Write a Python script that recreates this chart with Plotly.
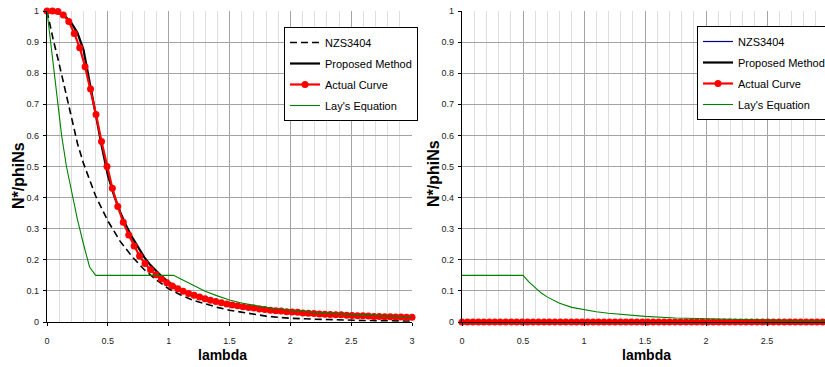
import plotly.graph_objects as go

# ---------------- data ----------------
# lambda grid of the "Actual Curve" markers
lam = [0.000, 0.045, 0.090, 0.134, 0.179, 0.224, 0.269, 0.313, 0.358, 0.403,
       0.448, 0.493, 0.537, 0.582, 0.627, 0.672, 0.716, 0.761, 0.806, 0.851,
       0.896, 0.940, 0.985, 1.030, 1.075, 1.119, 1.164, 1.209, 1.254, 1.299,
       1.343, 1.388, 1.433, 1.478, 1.522, 1.567, 1.612, 1.657, 1.701, 1.746,
       1.791, 1.836, 1.881, 1.925, 1.970, 2.015, 2.060, 2.104, 2.149, 2.194,
       2.239, 2.284, 2.328, 2.373, 2.418, 2.463, 2.507, 2.552, 2.597, 2.642,
       2.687, 2.731, 2.776, 2.821, 2.866, 2.910, 2.955, 3.000]

actual_left = [1.000, 1.000, 0.998, 0.987, 0.966, 0.928, 0.882, 0.821, 0.749, 0.667,
               0.580, 0.500, 0.430, 0.371, 0.321, 0.280, 0.244, 0.212, 0.188, 0.168,
               0.152, 0.138, 0.126, 0.116, 0.107, 0.099, 0.092, 0.086, 0.080, 0.075,
               0.070, 0.066, 0.062, 0.058, 0.055, 0.052, 0.049, 0.047, 0.045, 0.042,
               0.040, 0.038, 0.036, 0.035, 0.033, 0.032, 0.031, 0.029, 0.028, 0.027,
               0.026, 0.025, 0.024, 0.023, 0.023, 0.022, 0.021, 0.020, 0.020, 0.019,
               0.018, 0.018, 0.017, 0.017, 0.016, 0.016, 0.015, 0.015]

actual_right = [0.0, 0.0, 0.0, 0.0, 0.0, 0.0, 0.0, 0.0, 0.0, 0.0,
                0.0, 0.0, 0.0, 0.0, 0.0, 0.0, 0.0, 0.0, 0.0, 0.0,
                0.0, 0.0, 0.0, 0.0, 0.0, 0.0, 0.0, 0.0, 0.0, 0.0,
                0.0, 0.0, 0.0, 0.0, 0.0, 0.0, 0.0, 0.0, 0.0, 0.0,
                0.0, 0.0, 0.0, 0.0, 0.0, 0.0, 0.0, 0.0, 0.0, 0.0,
                0.0, 0.0, 0.0, 0.0, 0.0, 0.0, 0.0, 0.0, 0.0, 0.0,
                0.0, 0.0, 0.0, 0.0, 0.0, 0.0, 0.0, 0.0]

prop_x = [0, 0.05, 0.1, 0.15, 0.2, 0.25, 0.3, 0.35, 0.4, 0.45, 0.5, 0.55, 0.6, 0.65,
          0.7, 0.75, 0.8, 0.85, 0.9, 0.95, 1.0, 1.1, 1.2, 1.3, 1.4, 1.5, 1.6, 1.7,
          1.8, 1.9, 2.0, 2.2, 2.4, 2.6, 2.8, 3.0]
prop_left = [1.0, 0.998, 0.993, 0.983, 0.962, 0.93, 0.875, 0.772, 0.663, 0.565, 0.472,
             0.408, 0.355, 0.31, 0.272, 0.238, 0.208, 0.183, 0.162, 0.144, 0.128,
             0.103, 0.085, 0.072, 0.062, 0.054, 0.048, 0.043, 0.039, 0.035, 0.032,
             0.027, 0.023, 0.020, 0.017, 0.015]
prop_right_x = [0, 3.0]
prop_right = [0.0, 0.0]

nzs_x = [0, 0.025, 0.05, 0.1, 0.15, 0.2, 0.25, 0.3, 0.35, 0.4, 0.45, 0.5, 0.6, 0.7,
         0.8, 0.9, 1.0, 1.1, 1.2, 1.3, 1.4, 1.5, 1.6, 1.7, 1.8, 1.9, 2.0, 2.2, 2.4,
         2.6, 2.8, 3.0]
nzs_left = [1.0, 0.95, 0.91, 0.83, 0.745, 0.655, 0.575, 0.51, 0.455, 0.405, 0.365,
            0.325, 0.26, 0.21, 0.168, 0.135, 0.107, 0.087, 0.07, 0.058, 0.047, 0.038,
            0.031, 0.025, 0.019, 0.015, 0.012, 0.009, 0.006, 0.005, 0.004, 0.003]
nzs_right_x = [0, 3.0]
nzs_right = [0.0, 0.0]

lay_left_x = [0, 0.03, 0.06, 0.09, 0.12, 0.16, 0.2, 0.25, 0.3, 0.35, 0.4, 0.6, 0.8,
              1.0, 1.04, 1.1, 1.2, 1.3, 1.4, 1.5, 1.6, 1.7, 1.8, 1.9, 2.0, 2.2, 2.4,
              2.6, 2.8, 3.0]
lay_left = [1.0, 0.9, 0.8, 0.7, 0.6, 0.5, 0.42, 0.33, 0.25, 0.177, 0.15, 0.15, 0.15,
            0.15, 0.15, 0.138, 0.118, 0.099, 0.084, 0.071, 0.061, 0.053, 0.047, 0.042,
            0.038, 0.031, 0.026, 0.022, 0.019, 0.017]

lay_right_x = [0, 0.5, 0.55, 0.6, 0.65, 0.7, 0.75, 0.8, 0.9, 1.0, 1.1, 1.2, 1.3, 1.4,
               1.5, 1.75, 2.0, 2.25, 2.5, 2.75, 3.0]
lay_right = [0.15, 0.15, 0.128, 0.11, 0.093, 0.08, 0.069, 0.06, 0.047, 0.039, 0.033,
             0.028, 0.024, 0.021, 0.018, 0.013, 0.010, 0.008, 0.006, 0.005, 0.004]

names = ["NZS3404", "Proposed Method", "Actual Curve", "Lay's Equation"]
x_ticks = [0, 0.5, 1, 1.5, 2, 2.5, 3]
y_ticks = [0, 0.1, 0.2, 0.3, 0.4, 0.5, 0.6, 0.7, 0.8, 0.9, 1]

# ---------------- styling ----------------
FONT = "Liberation Sans, Arial, sans-serif"

fig = go.Figure()


def add_panel(xa, ya, legend, nzs, nzs_color, prop, act, lay):
    common = dict(xaxis=xa, yaxis=ya, legend=legend, cliponaxis=False)
    fig.add_trace(go.Scatter(x=nzs[0], y=nzs[1], mode="lines", name=names[0],
                             legendgroup=legend + "a",
                             line=dict(color=nzs_color, width=1.6 if nzs_color == "black" else 1.2,
                                       dash="7px,4px" if nzs_color == "black" else "solid"),
                             **common))
    fig.add_trace(go.Scatter(x=prop[0], y=prop[1], mode="lines", name=names[1],
                             legendgroup=legend + "b",
                             line=dict(color="black", width=2.2), **common))
    fig.add_trace(go.Scatter(x=act[0], y=act[1], mode="lines+markers", name=names[2],
                             legendgroup=legend + "c",
                             line=dict(color="#ff0000", width=2.2),
                             marker=dict(color="#ff0000", size=7, symbol="circle"),
                             **common))
    fig.add_trace(go.Scatter(x=lay[0], y=lay[1], mode="lines", name=names[3],
                             legendgroup=legend + "d",
                             line=dict(color="#008000", width=1.1), **common))


add_panel("x", "y", "legend", (nzs_x, nzs_left), "black", (prop_x, prop_left),
          (lam, actual_left), (lay_left_x, lay_left))
add_panel("x2", "y2", "legend2", (nzs_right_x, nzs_right), "#000080",
          (prop_right_x, prop_right), (lam, actual_right), (lay_right_x, lay_right))

W, H = 825, 367
ydom = [1 - 322 / H, 1 - 11 / H]

xcommon = dict(tickmode="array", tickvals=x_ticks, ticktext=[str(t) for t in x_ticks],
               showgrid=True, gridcolor="#a3a3a3", gridwidth=1,
               minor=dict(dtick=0.1, showgrid=True, gridcolor="#dedede", gridwidth=1,
                          ticks=""),
               showline=True, linecolor="black", linewidth=1.3,
               ticks="outside", ticklen=3, tickcolor="black", tickwidth=1,
               zeroline=False, ticklabelstandoff=7,
               tickfont=dict(family=FONT, size=9, color="#222"))
ycommon = dict(range=[0, 1], tickmode="array", tickvals=y_ticks,
               ticktext=[("%g" % t) for t in y_ticks],
               showgrid=True, gridcolor="#a3a3a3", gridwidth=1,
               showline=True, linecolor="black", linewidth=1.3,
               ticks="outside", ticklen=3, tickcolor="black", tickwidth=1,
               zeroline=False, ticklabelstandoff=2,
               tickfont=dict(family=FONT, size=9, color="#222"))

legcommon = dict(bgcolor="white", bordercolor="black", borderwidth=1,
                 font=dict(family=FONT, size=11, color="black"),
                 tracegroupgap=2, itemwidth=30, xanchor="left", yanchor="top",
                 itemclick=False)

title_font = dict(family=FONT, size=14, color="black")
ytitle_font = dict(family=FONT, size=16, color="black")

fig.update_layout(
    width=W, height=H,
    margin=dict(l=0, r=0, t=0, b=0, pad=0, autoexpand=False),
    paper_bgcolor="white", plot_bgcolor="white",
    xaxis=dict(domain=[47 / W, 412 / W], range=[0, 3], anchor="y", **xcommon),
    yaxis=dict(domain=ydom, anchor="x", **ycommon),
    xaxis2=dict(domain=[462 / W, 1.0], range=[0, 2.975], anchor="y2", **xcommon),
    yaxis2=dict(domain=ydom, anchor="x2", **ycommon),
    legend=dict(x=284 / W, y=1 - 27 / H, **legcommon),
    legend2=dict(x=697 / W, y=1 - 26 / H, **legcommon),
    showlegend=True,
    annotations=[
        dict(text="<b>lambda</b>", x=222 / W, y=1 - 355 / H, xref="paper", yref="paper",
             xanchor="center", yanchor="middle", showarrow=False, font=title_font),
        dict(text="<b>lambda</b>", x=646 / W, y=1 - 355 / H, xref="paper", yref="paper",
             xanchor="center", yanchor="middle", showarrow=False, font=title_font),
        dict(text="<b>N*/phiNs</b>", x=18 / W, y=1 - 176 / H, xref="paper", yref="paper",
             xanchor="center", yanchor="middle", showarrow=False, textangle=-90,
             font=ytitle_font),
        dict(text="<b>N*/phiNs</b>", x=433 / W, y=1 - 174 / H, xref="paper", yref="paper",
             xanchor="center", yanchor="middle", showarrow=False, textangle=-90,
             font=ytitle_font),
    ],
)

fig.write_html("out.html")
